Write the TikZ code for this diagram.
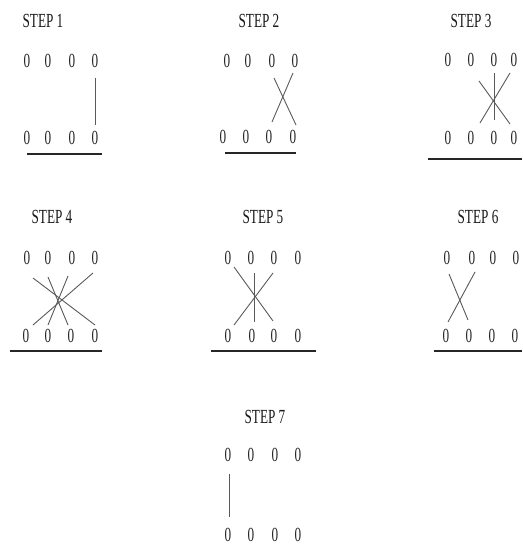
\documentclass[tikz,border=0pt]{standalone}
\usepackage{fontspec}
\setmainfont[FakeStretch=0.66]{Liberation Serif}
\begin{document}
\begin{tikzpicture}[x=1pt,y=-1pt,
  dig/.style={inner sep=0pt, text=black!85, font=\fontsize{20}{22}\selectfont},
  ttl/.style={inner sep=0pt, text=black!90, font=\fontsize{20}{22}\selectfont},
  ln/.style={draw=black!65, line width=0.9pt},
  ul/.style={draw=black!85, line width=1.4pt}]
\useasboundingbox (0,0) rectangle (522,545);
% helper: a row of four zeros
\newcommand{\zrow}[6]{%
  \node[dig] (#1a) at (#2,#6) {0};
  \node[dig] (#1b) at (#3,#6) {0};
  \node[dig] (#1c) at (#4,#6) {0};
  \node[dig] (#1d) at (#5,#6) {0};}
% STEP 1
\node[ttl] (t1) at (43,21) {STEP 1};
\zrow{s1t}{27}{48}{72}{95}{61}
\zrow{s1b}{27}{48}{72}{95}{138}
\draw[ln] (95,78) -- (95,125);
\draw[ul] (27,154) -- (102,154);
% STEP 2
\node[ttl] (t2) at (259,21) {STEP 2};
\zrow{s2t}{227}{248}{272}{295}{61}
\zrow{s2b}{223}{246}{269}{293}{137}
\draw[ln] (274,78) -- (296,125);
\draw[ln] (293,73) -- (272,122);
\draw[ul] (225,153) -- (296,153);
% STEP 3
\node[ttl] (t3) at (471,21) {STEP 3};
\zrow{s3t}{448}{471}{494}{514}{60}
\zrow{s3b}{448}{471}{494}{514}{138}
\draw[ln] (494,73) -- (494,120);
\draw[ln] (479,81) -- (510,124);
\draw[ln] (510,73) -- (480,123);
\draw[ul] (428,159) -- (522,159);
% STEP 4
\node[ttl] (t4) at (52,217) {STEP 4};
\zrow{s4t}{27}{48}{72}{95}{258}
\zrow{s4b}{26}{48}{71}{95}{336}
\draw[ln] (33,278) -- (95,325);
\draw[ln] (93,273) -- (33,325);
\draw[ln] (48,277) -- (68,325);
\draw[ln] (68,276) -- (48,325);
\draw[ul] (10,351) -- (102,351);
% STEP 5
\node[ttl] (t5) at (263,217) {STEP 5};
\zrow{s5t}{228}{251}{274}{298}{258}
\zrow{s5b}{228}{252}{274}{298}{336}
\draw[ln] (254,273) -- (254,322);
\draw[ln] (234,267) -- (273,321);
\draw[ln] (273,273) -- (234,325);
\draw[ul] (211,351) -- (316,351);
% STEP 6
\node[ttl] (t6) at (478,217) {STEP 6};
\zrow{s6t}{447}{472}{493}{516}{258}
\zrow{s6b}{446}{469}{492}{515}{336}
\draw[ln] (449,274) -- (468,320);
\draw[ln] (475,272) -- (448,322);
\draw[ul] (434,351) -- (522,351);
% STEP 7
\node[ttl] (t7) at (265,417) {STEP 7};
\zrow{s7t}{228}{251}{275}{298}{455}
\zrow{s7b}{228}{251}{275}{298}{535}
\draw[ln] (229,474) -- (229,517);
\end{tikzpicture}
\end{document}
